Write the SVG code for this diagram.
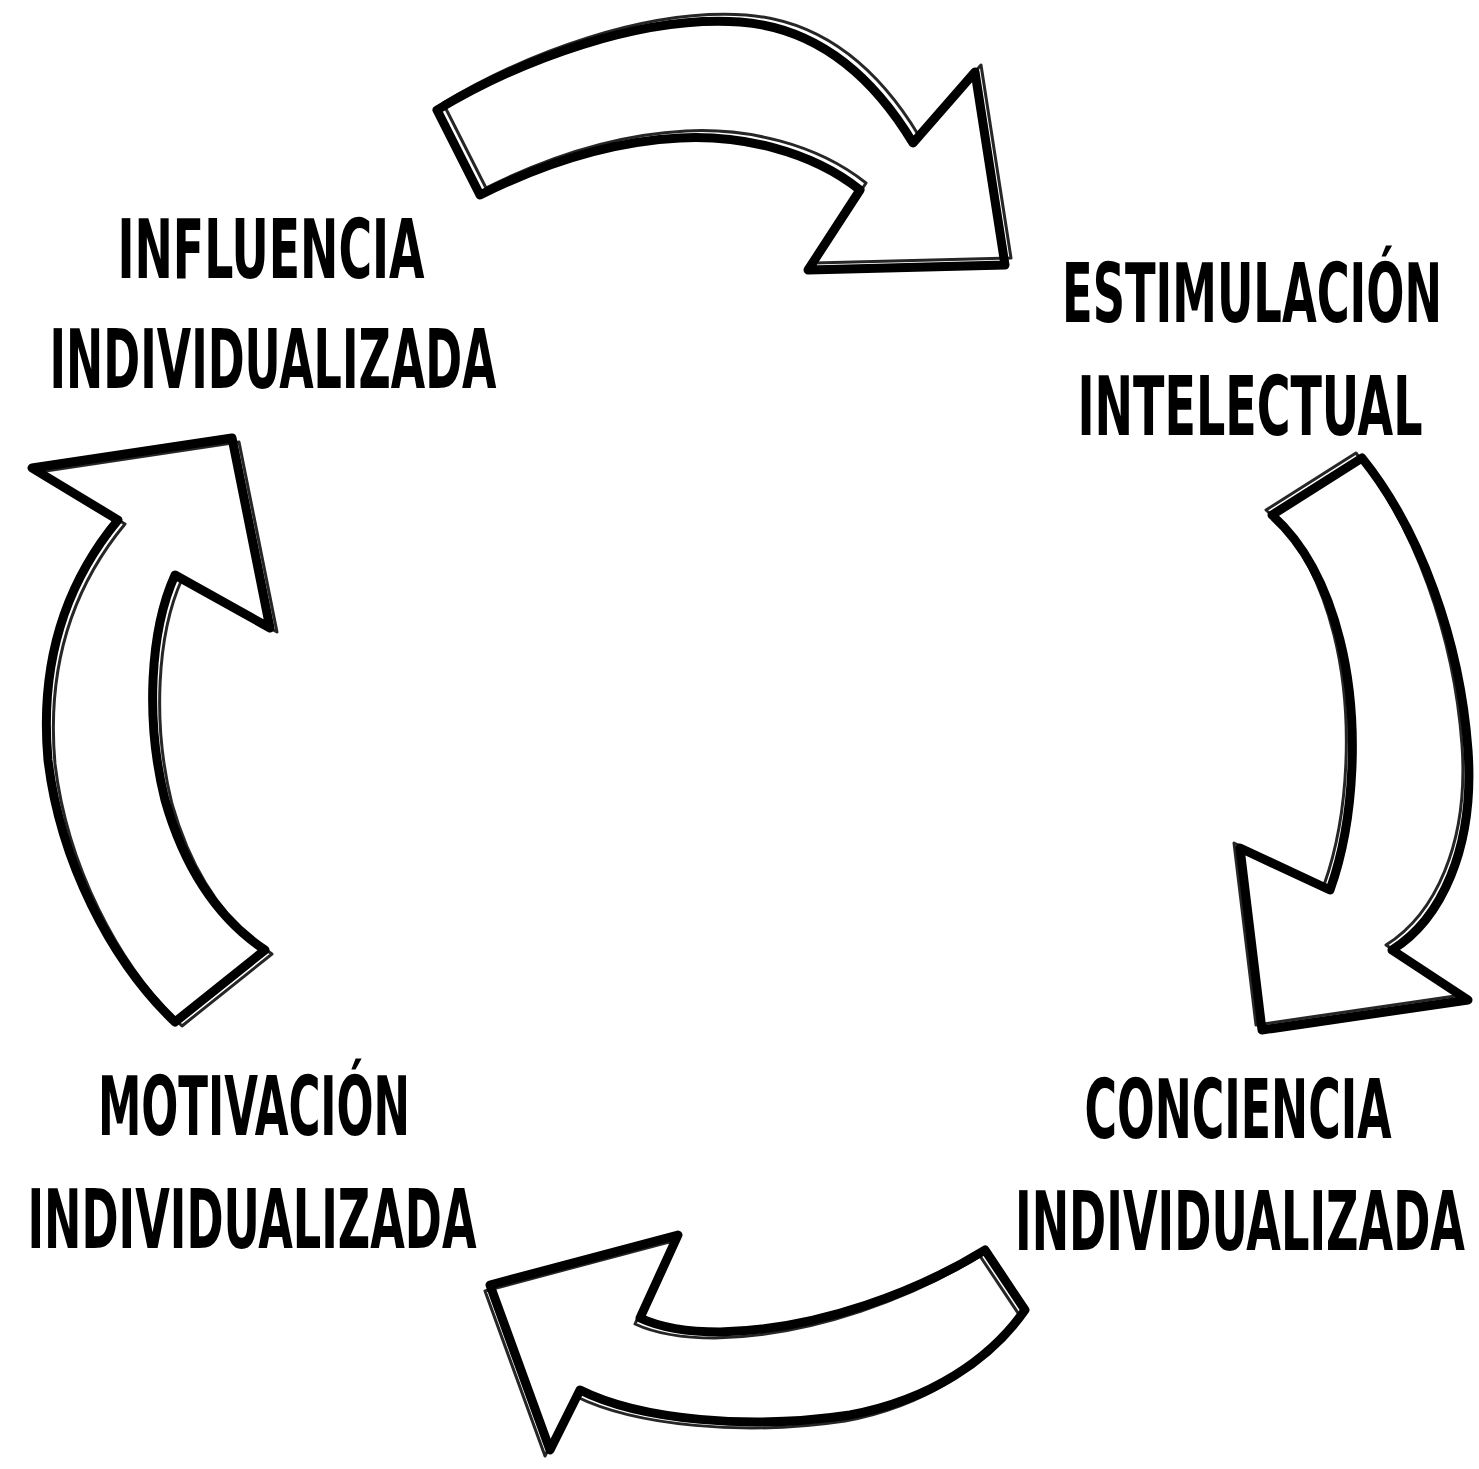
<svg xmlns="http://www.w3.org/2000/svg" xmlns:xlink="http://www.w3.org/1999/xlink" width="1479" height="1469" viewBox="0 0 1479 1469">
<style>
.arrow{fill:#fff;stroke:#000;stroke-width:9;stroke-linejoin:round;stroke-linecap:round}
.sketch{fill:none;stroke:#000;stroke-width:3;stroke-linejoin:round;opacity:0.85}
.lbl{font-family:"DejaVu Sans Condensed","Liberation Sans Narrow","Liberation Sans",sans-serif;font-weight:bold;font-size:82px;fill:#000;text-anchor:middle}
</style>
<defs>
<path id="a1" d="M 437 110 C 520 60, 640 15, 740 22 C 820 28, 875 80, 913 143 L 975 72 L 1005 265 L 808 270 L 860 190 C 810 150, 740 135, 680 138 C 600 142, 530 170, 480 195 Z"/>
<path id="a2" d="M 1362 458 C 1420 530, 1460 640, 1468 750 C 1475 850, 1440 920, 1392 950 L 1468 1000 L 1262 1030 L 1240 848 L 1330 890 C 1355 820, 1360 720, 1340 640 C 1325 580, 1300 540, 1272 515 Z"/>
<path id="a3" d="M 32 468 L 232 438 L 270 628 L 175 575 C 150 630, 145 720, 165 800 C 185 870, 220 920, 265 950 L 175 1022 C 110 960, 60 860, 48 760 C 40 670, 60 590, 118 520 Z"/>
<path id="a4" d="M 985 1250 C 920 1290, 820 1330, 720 1332 C 680 1332, 655 1325, 640 1318 L 678 1235 L 490 1285 L 550 1450 L 580 1390 C 640 1420, 750 1430, 850 1415 C 930 1400, 990 1360, 1025 1310 Z"/>
</defs>
<rect width="1479" height="1469" fill="#fff"/>
<g id="connectors">
<use xlink:href="#a1" class="arrow"/><use xlink:href="#a1" class="sketch" transform="translate(6,-7)"/>
<use xlink:href="#a2" class="arrow"/><use xlink:href="#a2" class="sketch" transform="translate(-6,-5)"/>
<use xlink:href="#a3" class="arrow"/><use xlink:href="#a3" class="sketch" transform="translate(7,4)"/>
<use xlink:href="#a4" class="arrow"/><use xlink:href="#a4" class="sketch" transform="translate(-5,6)"/>
</g>
<g id="node-influencia">
<text class="lbl" x="271" y="278" textLength="307" lengthAdjust="spacingAndGlyphs">INFLUENCIA</text>
<text class="lbl" x="273" y="388" textLength="447" lengthAdjust="spacingAndGlyphs">INDIVIDUALIZADA</text>
</g>
<g id="node-estimulacion">
<text class="lbl" x="1252" y="322" textLength="380" lengthAdjust="spacingAndGlyphs">ESTIMULACIÓN</text>
<text class="lbl" x="1250" y="435" textLength="345" lengthAdjust="spacingAndGlyphs">INTELECTUAL</text>
</g>
<g id="node-conciencia">
<text class="lbl" x="1238" y="1138" textLength="307" lengthAdjust="spacingAndGlyphs">CONCIENCIA</text>
<text class="lbl" x="1240" y="1250" textLength="450" lengthAdjust="spacingAndGlyphs">INDIVIDUALIZADA</text>
</g>
<g id="node-motivacion">
<text class="lbl" x="254" y="1135" textLength="312" lengthAdjust="spacingAndGlyphs">MOTIVACIÓN</text>
<text class="lbl" x="252" y="1248" textLength="449" lengthAdjust="spacingAndGlyphs">INDIVIDUALIZADA</text>
</g>
</svg>
